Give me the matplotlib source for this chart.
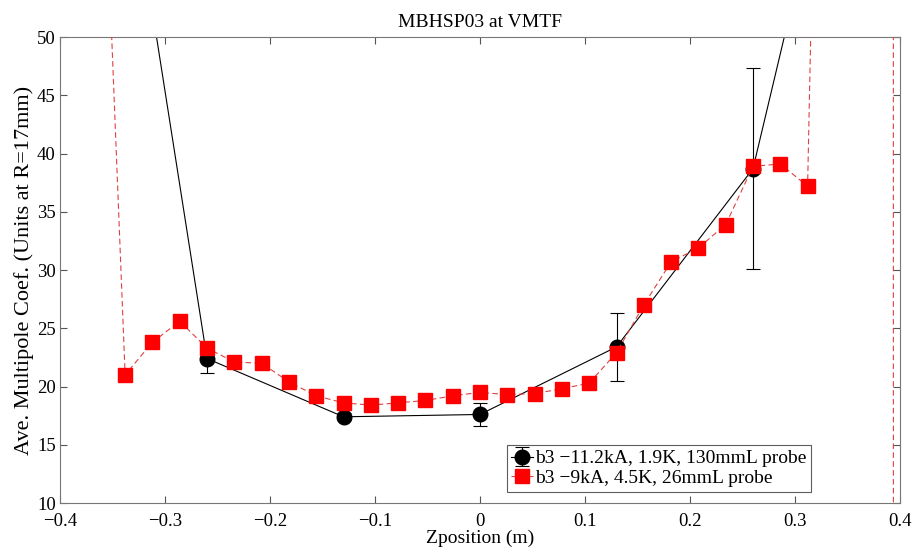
import matplotlib
matplotlib.use('Agg')
import matplotlib.pyplot as plt
import numpy as np

# b3 from the 130 mm probe at 11.2 kA, 1.9 K (with error bars)
z_long = [-0.39, -0.26, -0.13, 0.0, 0.13, 0.26, 0.39]
b3_long = [97.0, 22.4, 17.4, 17.6, 23.4, 38.7, 88.0]
err_long = [0.0, 1.2, 0.3, 1.0, 2.9, 8.6, 0.0]

# b3 from the 26 mm probe at 9 kA, 4.5 K
z_short = [-0.364, -0.338, -0.312, -0.286, -0.260, -0.234, -0.208, -0.182,
           -0.156, -0.130, -0.104, -0.078, -0.052, -0.026, 0.0, 0.026,
           0.052, 0.078, 0.104, 0.130, 0.156, 0.182, 0.208, 0.234, 0.260,
           0.286, 0.312, 0.338, 0.364, 0.390, 0.416]
b3_short = [80.0, 21.0, 23.8, 25.6, 23.3, 22.1, 22.0, 20.4,
            19.2, 18.6, 18.4, 18.6, 18.8, 19.2, 19.5, 19.3,
            19.4, 19.8, 20.3, 22.9, 27.0, 30.7, 31.9, 33.9, 38.9,
            39.1, 37.2, 150.0, 900.0, 5000.0, -30000.0]

xtick_labels = ['\u22120.4', '\u22120.3', '\u22120.2', '\u22120.1', '0',
                '0.1', '0.2', '0.3', '0.4']

plt.rcParams['font.family'] = ['Liberation Serif', 'DejaVu Serif']

fig = plt.figure(figsize=(9.15, 5.51), dpi=100)
ax = fig.add_axes([0.0656, 0.0871, 0.9180, 0.8457])

eb = ax.errorbar(z_long, b3_long, yerr=err_long, color='black', linestyle='-',
                 linewidth=0.8, marker='o', markersize=10.5,
                 markerfacecolor='black', ecolor='black', elinewidth=0.8,
                 capsize=5, capthick=0.8, zorder=2)
ln, = ax.plot(z_short, b3_short, color='#e04040', linestyle=(0, (5, 3)),
              linewidth=0.8, marker='s', markersize=9.5, markerfacecolor='red',
              markeredgecolor='red', zorder=3)

ax.set_xlim(-0.4, 0.4)
ax.set_ylim(10, 50)
ax.set_xticks(np.arange(-0.4, 0.41, 0.1))
ax.set_yticks(np.arange(10, 51, 5))
ax.set_xticklabels(xtick_labels)
ax.tick_params(direction='in', top=True, right=True, labelsize=13.5, length=5,
               color='#555555')
ax.tick_params(axis='x', pad=7)
ax.tick_params(axis='y', pad=3)
for s in ax.spines.values():
    s.set_color('#777777')

ax.set_title('MBHSP03 at VMTF', fontsize=14, pad=7)
ax.set_xlabel('Zposition (m)', fontsize=14, labelpad=0)
ax.set_ylabel('Ave. Multipole Coef. (Units at R=17mm)', fontsize=16,
              labelpad=2)

leg = ax.legend([eb, ln], ['b3 \u221211.2kA, 1.9K, 130mmL probe',
                           'b3 \u22129kA, 4.5K, 26mmL probe'],
                loc='lower right', bbox_to_anchor=(0.894, 0.024), fontsize=14,
                frameon=True, fancybox=False, edgecolor='#333333',
                borderpad=0.25, handlelength=1.1, handletextpad=0.1,
                labelspacing=0.1, borderaxespad=0.0)
leg.get_frame().set_linewidth(0.8)

fig.savefig('out.png', dpi=100)
